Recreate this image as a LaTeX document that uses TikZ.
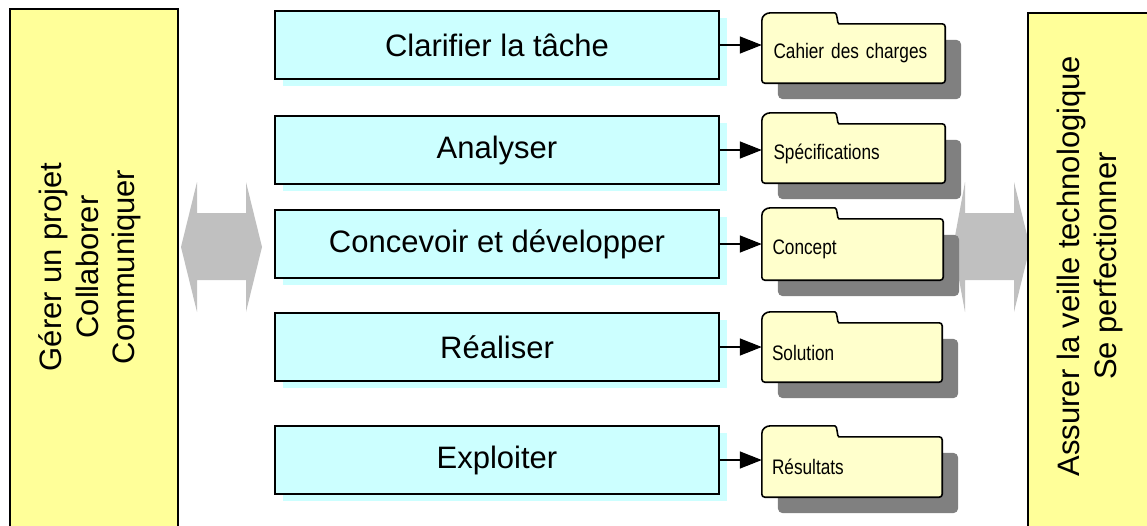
\documentclass[tikz,border=0pt]{standalone}
\usepackage{fontspec}
\setmainfont{Liberation Sans}
\newfontfamily\narrowsans{Liberation Sans}[FakeStretch=0.82]
\usetikzlibrary{arrows.meta,positioning,shadows,backgrounds,calc}
\definecolor{ink}{HTML}{000000}
\definecolor{sideyellow}{HTML}{FFFF99}
\definecolor{taskcyan}{HTML}{CCFFFF}
\definecolor{foldercream}{HTML}{FFFFCC}
\definecolor{linkgray}{HTML}{C0C0C0}
\definecolor{foldshade}{HTML}{808080}

\begin{document}
\begin{tikzpicture}[
  x=1pt,y=-1pt,
  line cap=butt,line join=miter,
  side/.style={draw=ink,line width=1.6pt,fill=sideyellow,minimum width=168pt,
               minimum height=522pt,inner sep=0pt},
  sidetext/.style={rotate=90,align=center,text=ink,
                   font=\fontsize{31}{36.5}\selectfont},
  task/.style={draw=ink,line width=1.6pt,fill=taskcyan,minimum width=444pt,
               minimum height=68pt,font=\fontsize{31}{36}\selectfont,
               drop shadow={shadow xshift=8pt,shadow yshift=-7pt,fill=taskcyan,opacity=1}},
  folder/.style={minimum height=59pt,inner xsep=10pt,inner ysep=0pt,text width=160pt,
                 align=left,text=ink,font=\narrowsans\fontsize{21}{24}\selectfont},
  folderline/.style={draw=ink,line width=1.6pt,fill=foldercream,rounded corners=3pt},
  foldershadow/.style={fill=foldshade,rounded corners=5pt},
  arrow/.style={-{Triangle[length=22pt,width=17pt]},line width=1.4pt,draw=ink},
  link/.style={fill=linkgray}
]
\useasboundingbox (0,0) rectangle (1147,525);
\clip (0,0) rectangle (1147,525);

% Broad links to the side panels
\begin{scope}[on background layer]
  \begin{scope}[shift={(221.5,247)}]
    \fill[link] (-40.5,0) -- (-24.5,-65) -- (-24.5,-34) -- (24.5,-34) -- (24.5,-65)
      -- (40.5,0) -- (24.5,65) -- (24.5,33) -- (-24.5,33) -- (-24.5,65) -- cycle;
  \end{scope}
  \begin{scope}[shift={(991.5,247)}]
    \fill[link] (-38.5,0) -- (-26.5,-65) -- (-26.5,-34) -- (22.5,-34) -- (22.5,-65)
      -- (38.5,0) -- (22.5,65) -- (22.5,33) -- (-26.5,33) -- (-26.5,65) -- cycle;
  \end{scope}
\end{scope}

% Side panels
\node[side] (gerer) at (94,270) {};
\node[sidetext] (gerertxt) at (90,267) {Gérer un projet\\Collaborer\\Communiquer};
\node[side] (veille) at (1112,274) {};
\node[sidetext] (veilletxt) at (1090,266) {Assurer la veille technologique\\Se perfectionner};

% Process steps
\node[task] (clarifier) at (497,45) {Clarifier la tâche};
\node[task] (analyser) at (497,150) {Analyser};
\node[task] (concevoir) at (497,244) {Concevoir et développer};
\node[task] (realiser) at (497,347) {Réaliser};
\node[task] (exploiter) at (497,460) {Exploiter};

% Deliverables
\node[folder,minimum width=183pt] (cahier) at (853.5,53.5) {Cahier des charges};
\node[folder,minimum width=183pt] (specs) at (853.5,153.5) {Spécifications};
\node[folder,minimum width=181pt,minimum height=61pt] (concept) at (852.5,249.5) {Concept};
\node[folder,minimum width=180pt] (solution) at (852,352.5) {Solution};
\node[folder,minimum width=180pt,minimum height=60pt] (resultats) at (852,467) {Résultats};

% Folder tabs and shadows
\begin{scope}[on background layer]
  \fill[foldershadow] ([shift={(16,16)}]cahier.north west) rectangle ([shift={(16,16)}]cahier.south east);
  \draw[folderline] (cahier.south west) -- (cahier.north west) .. controls +(0,-8) and +(-8,0) .. ++(12,-11)
    -- ++(58,0) .. controls +(6,0) and +(-5,0) .. ++(10,11) -- (cahier.north east) -- (cahier.south east) -- cycle;
  \fill[foldershadow] ([shift={(16,16)}]specs.north west) rectangle ([shift={(16,16)}]specs.south east);
  \draw[folderline] (specs.south west) -- (specs.north west) .. controls +(0,-8) and +(-8,0) .. ++(12,-11)
    -- ++(58,0) .. controls +(6,0) and +(-5,0) .. ++(10,11) -- (specs.north east) -- (specs.south east) -- cycle;
  \fill[foldershadow] ([shift={(16,16)}]concept.north west) rectangle ([shift={(16,16)}]concept.south east);
  \draw[folderline] (concept.south west) -- (concept.north west) .. controls +(0,-8) and +(-8,0) .. ++(12,-11)
    -- ++(58,0) .. controls +(6,0) and +(-5,0) .. ++(10,11) -- (concept.north east) -- (concept.south east) -- cycle;
  \fill[foldershadow] ([shift={(16,16)}]solution.north west) rectangle ([shift={(16,16)}]solution.south east);
  \draw[folderline] (solution.south west) -- (solution.north west) .. controls +(0,-8) and +(-8,0) .. ++(12,-11)
    -- ++(58,0) .. controls +(6,0) and +(-5,0) .. ++(10,11) -- (solution.north east) -- (solution.south east) -- cycle;
  \fill[foldershadow] ([shift={(16,16)}]resultats.north west) rectangle ([shift={(16,16)}]resultats.south east);
  \draw[folderline] (resultats.south west) -- (resultats.north west) .. controls +(0,-8) and +(-8,0) .. ++(12,-11)
    -- ++(58,0) .. controls +(6,0) and +(-5,0) .. ++(10,11) -- (resultats.north east) -- (resultats.south east) -- cycle;
\end{scope}

% Step to deliverable
\draw[arrow] (clarifier.east) -- (clarifier.east -| cahier.west);
\draw[arrow] (analyser.east) -- (analyser.east -| specs.west);
\draw[arrow] (concevoir.east) -- (concevoir.east -| concept.west);
\draw[arrow] (realiser.east) -- (realiser.east -| solution.west);
\draw[arrow] (exploiter.east) -- (exploiter.east -| resultats.west);
\end{tikzpicture}
\end{document}
